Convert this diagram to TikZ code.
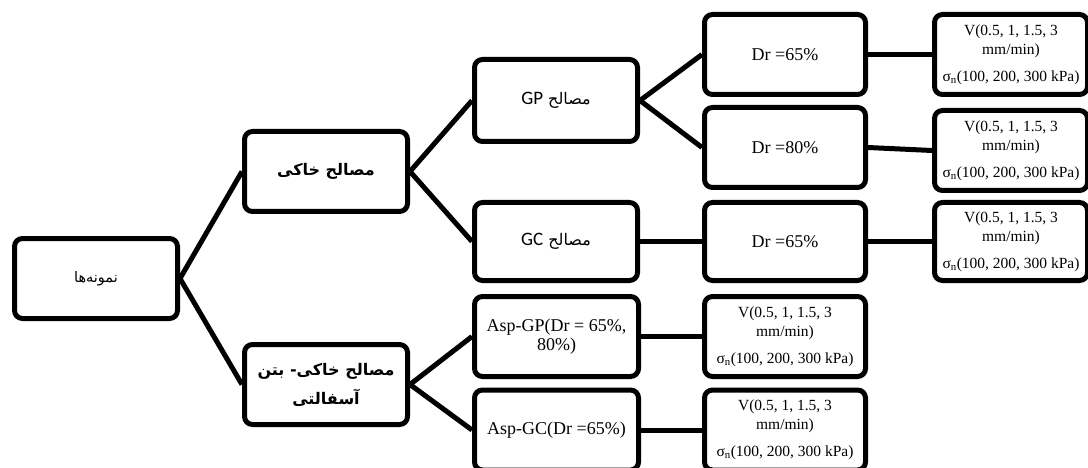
\documentclass[tikz,border=0pt]{standalone}
\usepackage{fontspec}
\setmainfont{Liberation Serif}
\newfontfamily\arabicfont[Script=Arabic]{DejaVu Sans}
\newfontfamily\calibrifont{Carlito}
\TeXXeTstate=1
\begin{document}
\begin{tikzpicture}[x=1pt,y=-1pt,
  box/.style={draw, line width=5pt, rounded corners=8pt, align=center, inner sep=2pt,
    minimum width=163pt, minimum height=80pt},
  vbox/.style={box, minimum width=161pt, font=\fontsize{15.5}{19}\selectfont},
  drbox/.style={box, minimum width=161pt, font=\fontsize{18}{20}\selectfont},
  arb/.style={font={\arabicfont\bfseries\fontsize{16}{29}\selectfont}},
  conn/.style={line width=5pt}]
\useasboundingbox (0,0) rectangle (1088,468);

\node[box, font={\arabicfont\fontsize{14.5}{16}\selectfont}] (root) at (96,278.5) {\beginR نمونه^^^^200cها\endR};
\node[box, arb] (soil) at (326,171.5) {\beginR مصالح خاکی\endR};
\node[box, arb] (asph) at (326,384.5) {\beginR مصالح خاکی- بتن\endR\\\beginR آسفالتی\endR};

\node[box, minimum height=82pt, font={\arabicfont\fontsize{16}{18}\selectfont}] (gp) at (556,100.5) {\beginR مصالح {\calibrifont\fontsize{19}{20}\selectfont\beginL GP\endL}\endR};
\node[box, minimum height=78pt, font={\arabicfont\fontsize{16}{18}\selectfont}] (gc) at (556,241.5) {\beginR مصالح {\calibrifont\fontsize{19}{20}\selectfont\beginL GC\endL}\endR};

\node[drbox] (dr1) at (785,54.5) {Dr =65\%};
\node[drbox] (dr2) at (785,147.5) {Dr =80\%};
\node[drbox, minimum height=78pt] (dr3) at (785,241.5) {Dr =65\%};

\node[vbox, minimum width=153pt] (v1) at (1011,54.5) {V(0.5, 1, 1.5, 3\\mm/min)\\[8pt]σ\textsubscript{n}(100, 200, 300 kPa)};
\node[vbox, minimum width=153pt] (v2) at (1011,150.5) {V(0.5, 1, 1.5, 3\\mm/min)\\[8pt]σ\textsubscript{n}(100, 200, 300 kPa)};
\node[vbox, minimum width=153pt, minimum height=78pt] (v3) at (1011,241.5) {V(0.5, 1, 1.5, 3\\mm/min)\\[8pt]σ\textsubscript{n}(100, 200, 300 kPa)};

\node[drbox, minimum width=164pt, font=\fontsize{18}{19}\selectfont] (agp) at (556.5,336.5) {Asp-GP(Dr = 65\%,\\80\%)};
\node[drbox, minimum width=164pt] (agc) at (556.5,430) {Asp-GC(Dr =65\%)};

\node[vbox] (v4) at (785,336.5) {V(0.5, 1, 1.5, 3\\mm/min)\\[8pt]σ\textsubscript{n}(100, 200, 300 kPa)};
\node[vbox] (v5) at (785,430) {V(0.5, 1, 1.5, 3\\mm/min)\\[8pt]σ\textsubscript{n}(100, 200, 300 kPa)};

\draw[conn] (root.east) -- (soil.west);
\draw[conn] (root.east) -- (asph.west);
\draw[conn] (soil.east) -- (gp.west);
\draw[conn] (soil.east) -- (gc.west);
\draw[conn] (gp.east) -- (dr1.west);
\draw[conn] (gp.east) -- (dr2.west);
\draw[conn] (gc.east) -- (dr3.west);
\draw[conn] (dr1.east) -- (v1.west);
\draw[conn] (dr2.east) -- (v2.west);
\draw[conn] (dr3.east) -- (v3.west);
\draw[conn] (asph.east) -- (agp.west);
\draw[conn] (asph.east) -- (agc.west);
\draw[conn] (agp.east) -- (v4.west);
\draw[conn] (agc.east) -- (v5.west);
\end{tikzpicture}
\end{document}
